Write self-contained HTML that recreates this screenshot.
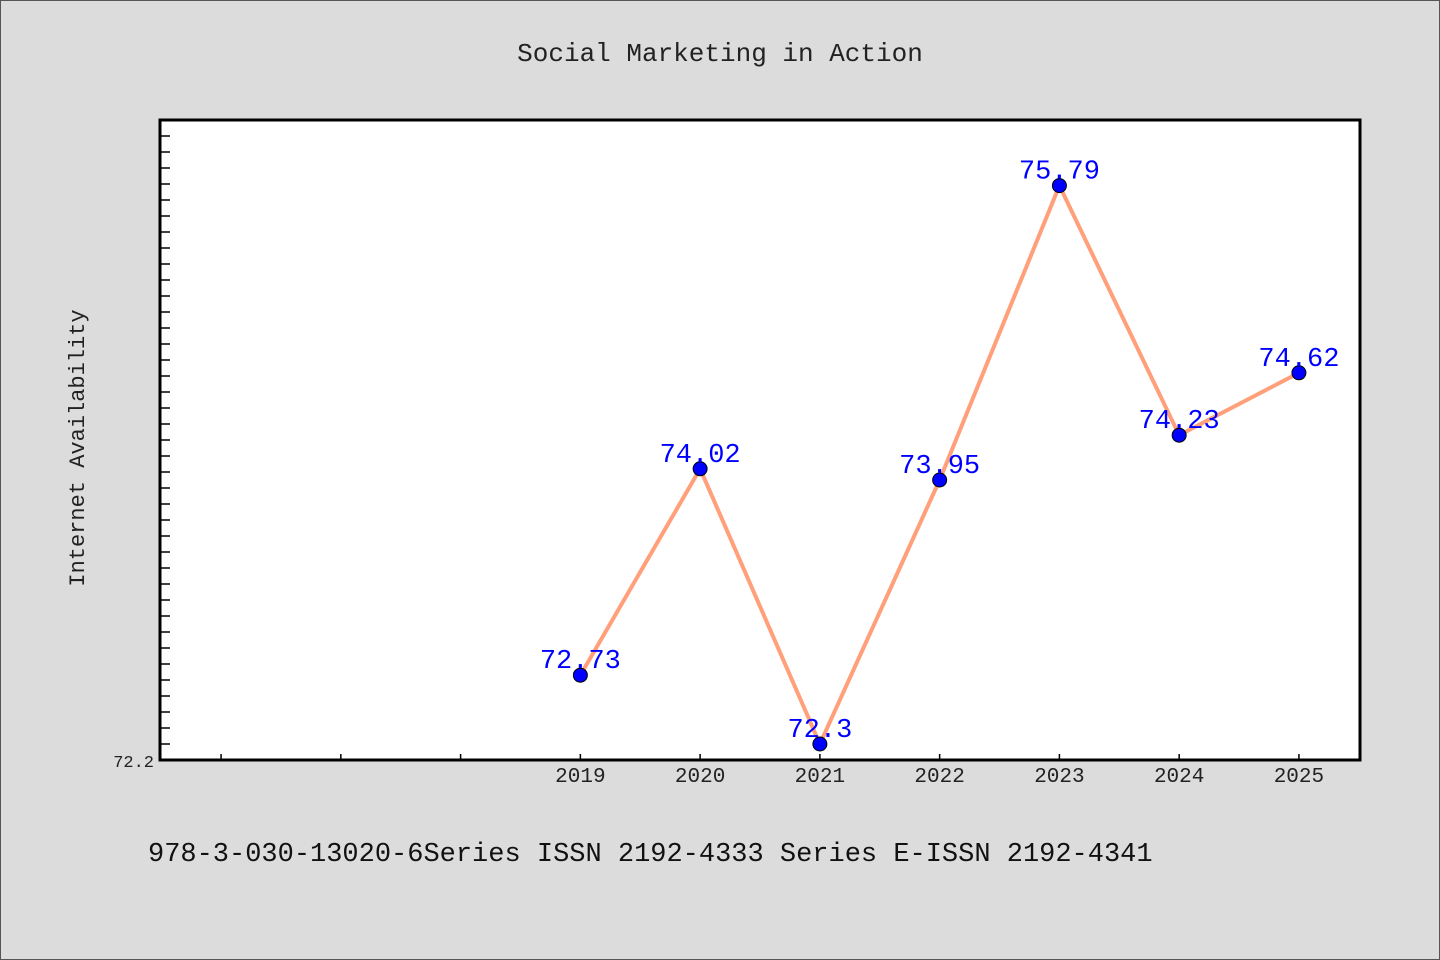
<!DOCTYPE html>
<html><head><meta charset="utf-8"><style>
body{margin:0;width:1440px;height:960px;background:#dcdcdc;overflow:hidden}
svg{display:block}
text{font-family:"Liberation Mono","Noto Sans CJK SC",monospace}
</style></head><body>
<svg id="chart" width="1440" height="960">
<rect x="0.5" y="0.5" width="1439" height="959" fill="#dcdcdc" stroke="#555"/>
<text x="720" y="61" text-anchor="middle" font-size="26" fill="#222">Social Marketing in Action</text>
<rect x="160" y="120" width="1200" height="640" fill="#fff"/>
<g id="ticks"></g>
<g id="series"></g>
<rect x="160" y="120" width="1200" height="640" fill="none" stroke="#000" stroke-width="3"/>
<text transform="translate(84,448) rotate(-90)" text-anchor="middle" font-size="22" fill="#222">Internet Availability</text>
<text x="154" y="767" text-anchor="end" font-size="17" fill="#222">72.2</text>
<text x="148" y="861" font-size="27" fill="#111">978-3-030-13020-6Series ISSN 2192-4333 Series E-ISSN 2192-4341</text>
</svg>
<script>
const categories=[2019,2020,2021,2022,2023,2024,2025];
const values=[72.73,74.02,72.3,73.95,75.79,74.23,74.62];
const labels=["72.73","74.02","72.3","73.95","75.79","74.23","74.62"];
const xMin=2015.49,xMax=2025.51,yMin=72.2,yMax=76.2;
const X=v=>160+(v-xMin)/(xMax-xMin)*1200;
const Y=v=>760-(v-yMin)/(yMax-yMin)*640;
const NS="http://www.w3.org/2000/svg";
const tg=document.getElementById('ticks'),sg=document.getElementById('series');
function mk(t,a,p){const e=document.createElementNS(NS,t);for(const k in a)e.setAttribute(k,a[k]);p.appendChild(e);return e;}
for(let i=1;i<40;i++){const y=Y(yMin+i*0.1);
const t=mk('line',{x1:160,x2:170,y1:y,y2:y,stroke:'#000','stroke-width':1.5},tg);

}
for(let yr=2016;yr<=2025;yr++){const x=X(yr);
const t=mk('line',{x1:x,x2:x,y1:760,y2:754,stroke:'#000','stroke-width':1.5},tg);

}
categories.forEach(c=>{const t=mk('text',{x:X(c),y:782,'text-anchor':'middle','font-size':21,fill:'#222'},tg);t.textContent=c;

});
const pts=categories.map((c,i)=>X(c)+','+Y(values[i])).join(' ');
const line=mk('polyline',{points:pts,fill:'none',stroke:'#ffa07a','stroke-width':4},sg);


categories.forEach((c,i)=>{
const p=mk('circle',{cx:X(c),cy:Y(values[i]),r:7,fill:'#0000ff',stroke:'#000','stroke-width':1},sg);


const t=mk('text',{x:X(c),y:Y(values[i])-7,'text-anchor':'middle','font-size':27,fill:'#0000ff','font-family':'Liberation Sans, sans-serif'},sg);
t.textContent=labels[i];


});
</script>
</body></html>
